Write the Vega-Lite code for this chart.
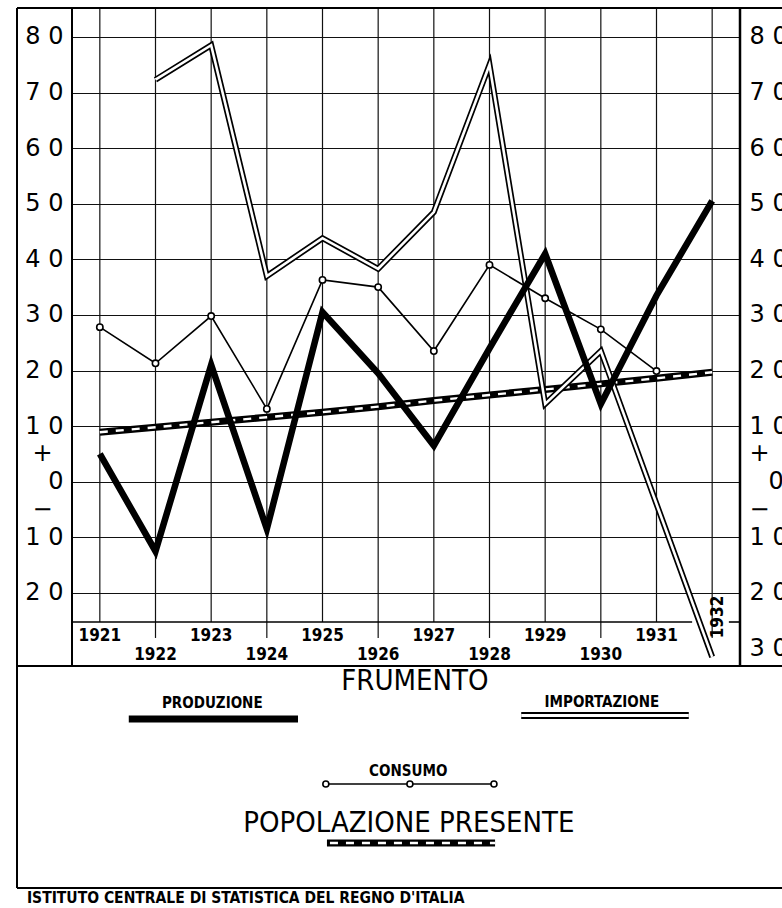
{
"$schema":"https://vega.github.io/schema/vega-lite/v6.json",
"autosize":{"type":"none"},
"padding":{"left":72,"top":8,"right":42,"bottom":20},
"width":668,"height":880,
"background":"white",
"config":{"view":{"stroke":null},"axis":{"labelOverlap":false,"labelFlush":false}},
"datasets":{
 "serie":[
  {"anno":1921,"serie":"Produzione","valore":5},
  {"anno":1922,"serie":"Produzione","valore":-12.5},
  {"anno":1923,"serie":"Produzione","valore":21},
  {"anno":1924,"serie":"Produzione","valore":-8.5},
  {"anno":1925,"serie":"Produzione","valore":30.5},
  {"anno":1926,"serie":"Produzione","valore":19.5},
  {"anno":1927,"serie":"Produzione","valore":6.5},
  {"anno":1928,"serie":"Produzione","valore":24},
  {"anno":1929,"serie":"Produzione","valore":41},
  {"anno":1930,"serie":"Produzione","valore":14},
  {"anno":1931,"serie":"Produzione","valore":33.5},
  {"anno":1932,"serie":"Produzione","valore":50.5},
  {"anno":1922,"serie":"Importazione","valore":72.3},
  {"anno":1923,"serie":"Importazione","valore":78.5},
  {"anno":1924,"serie":"Importazione","valore":37},
  {"anno":1925,"serie":"Importazione","valore":43.8},
  {"anno":1926,"serie":"Importazione","valore":38.3},
  {"anno":1927,"serie":"Importazione","valore":48.5},
  {"anno":1928,"serie":"Importazione","valore":75},
  {"anno":1929,"serie":"Importazione","valore":14},
  {"anno":1930,"serie":"Importazione","valore":23.5},
  {"anno":1932,"serie":"Importazione","valore":-31.5},
  {"anno":1921,"serie":"Consumo","valore":27.8},
  {"anno":1922,"serie":"Consumo","valore":21.3},
  {"anno":1923,"serie":"Consumo","valore":29.8},
  {"anno":1924,"serie":"Consumo","valore":13.1},
  {"anno":1925,"serie":"Consumo","valore":36.3},
  {"anno":1926,"serie":"Consumo","valore":35},
  {"anno":1927,"serie":"Consumo","valore":23.5},
  {"anno":1928,"serie":"Consumo","valore":39},
  {"anno":1929,"serie":"Consumo","valore":33},
  {"anno":1930,"serie":"Consumo","valore":27.4},
  {"anno":1931,"serie":"Consumo","valore":19.9},
  {"anno":1921,"serie":"Popolazione","valore":8.9},
  {"anno":1922,"serie":"Popolazione","valore":9.8},
  {"anno":1923,"serie":"Popolazione","valore":10.7},
  {"anno":1924,"serie":"Popolazione","valore":11.6},
  {"anno":1925,"serie":"Popolazione","valore":12.5},
  {"anno":1926,"serie":"Popolazione","valore":13.5},
  {"anno":1927,"serie":"Popolazione","valore":14.6},
  {"anno":1928,"serie":"Popolazione","valore":15.6},
  {"anno":1929,"serie":"Popolazione","valore":16.6},
  {"anno":1930,"serie":"Popolazione","valore":17.6},
  {"anno":1931,"serie":"Popolazione","valore":18.6},
  {"anno":1932,"serie":"Popolazione","valore":19.7}
 ],
 "anni":[{"anno":1921},{"anno":1922},{"anno":1923},{"anno":1924},{"anno":1925},{"anno":1926},{"anno":1927},{"anno":1928},{"anno":1929},{"anno":1930},{"anno":1931},{"anno":1932}],
 "uno":[{}]
},
"resolve":{"axis":{"y":"independent"}},
"layer":[
 {"data":{"name":"anni"},"mark":{"type":"rule","color":"#111","strokeWidth":1.2},
  "encoding":{"x":{"field":"anno","type":"quantitative","scale":{"domain":[1920.5,1932.5],"nice":false,"zero":false},"axis":null},
   "y":{"datum":85.2,"scale":{"domain":[-73.07,85.2],"nice":false,"zero":false},"axis":null},"y2":{"datum":-25.23}}},
 {"data":{"name":"anni"},"transform":[{"filter":"datum.anno % 2 == 0"}],"mark":{"type":"rule","color":"#111","strokeWidth":1.2},
  "encoding":{"x":{"field":"anno","type":"quantitative","axis":null},"y":{"datum":-25.23,"axis":null},"y2":{"datum":-28.1}}},
 {"data":{"name":"uno"},"mark":{"type":"rule","color":"black","strokeWidth":2},
  "encoding":{"x":{"datum":1920.5,"axis":null},"y":{"datum":85.2,"axis":null},"y2":{"datum":-33.15}}},
 {"data":{"name":"uno"},"mark":{"type":"rule","color":"black","strokeWidth":2.5},
  "encoding":{"x":{"datum":1932.5,"axis":null},"y":{"datum":85.2,"axis":null},"y2":{"datum":-33.15}}},
 {"data":{"name":"uno"},"mark":{"type":"rule","color":"black","strokeWidth":2},
  "encoding":{"x":{"datum":1919.512,"axis":null},"y":{"datum":85.2,"axis":null},"y2":{"datum":-73.07}}},
 {"data":{"name":"uno"},"mark":{"type":"rule","color":"black","strokeWidth":2},
  "encoding":{"y":{"datum":85.2,"axis":null},"x":{"datum":1919.512,"axis":null},"x2":{"datum":1933.3}}},
 {"data":{"name":"uno"},"mark":{"type":"rule","color":"black","strokeWidth":2},
  "encoding":{"y":{"datum":-33.15,"axis":null},"x":{"datum":1919.512,"axis":null},"x2":{"datum":1933.3}}},
 {"data":{"name":"uno"},"mark":{"type":"rule","color":"black","strokeWidth":2},
  "encoding":{"y":{"datum":-73.07,"axis":null},"x":{"datum":1919.512,"axis":null},"x2":{"datum":1933.3}}},
 {"data":{"name":"uno"},"mark":{"type":"rule","color":"black","strokeWidth":1.6},
  "encoding":{"y":{"datum":-25.23,"axis":null},"x":{"datum":1920.5,"axis":null},"x2":{"datum":1931.64}}},
 {"data":{"name":"uno"},"mark":{"type":"rule","color":"black","strokeWidth":1.6},
  "encoding":{"y":{"datum":-25.23,"axis":null},"x":{"datum":1932.3,"axis":null},"x2":{"datum":1932.5}}},
 {"data":{"name":"anni"},"transform":[{"filter":"datum.anno % 2 == 1"}],
  "mark":{"type":"text","font":"Liberation Sans Narrow, DejaVu Sans Condensed, Roboto Condensed, DejaVu Sans","fontSize":17,"fontWeight":"bold","baseline":"middle","align":"center","color":"black"},
  "encoding":{"x":{"field":"anno","type":"quantitative","axis":null},"y":{"datum":-27.75,"axis":null},"text":{"field":"anno","type":"nominal"}}},
 {"data":{"name":"anni"},"transform":[{"filter":"datum.anno % 2 == 0 && datum.anno < 1932"}],
  "mark":{"type":"text","font":"Liberation Sans Narrow, DejaVu Sans Condensed, Roboto Condensed, DejaVu Sans","fontSize":17,"fontWeight":"bold","baseline":"middle","align":"center","color":"black"},
  "encoding":{"x":{"field":"anno","type":"quantitative","axis":null},"y":{"datum":-31.17,"axis":null},"text":{"field":"anno","type":"nominal"}}},
 {"data":{"name":"anni"},"transform":[{"filter":"datum.anno == 1932"}],
  "mark":{"type":"text","font":"Liberation Sans Narrow, DejaVu Sans Condensed, Roboto Condensed, DejaVu Sans","fontSize":17,"fontWeight":"bold","baseline":"middle","align":"center","angle":270,"color":"black"},
  "encoding":{"x":{"datum":1932.1,"axis":null},"y":{"datum":-24.33,"axis":null},"text":{"field":"anno","type":"nominal"}}},
 {"data":{"name":"serie"},"transform":[{"filter":"datum.serie == 'Popolazione'"}],
  "mark":{"type":"line","color":"black","strokeWidth":7,"strokeCap":"butt"},
  "encoding":{"x":{"field":"anno","type":"quantitative","axis":null},"y":{"field":"valore","type":"quantitative","axis":null}}},
 {"data":{"name":"serie"},"transform":[{"filter":"datum.serie == 'Popolazione'"}],
  "mark":{"type":"line","color":"white","strokeWidth":2.4,"strokeDash":[8,8],"strokeCap":"butt"},
  "encoding":{"x":{"field":"anno","type":"quantitative","axis":null},"y":{"field":"valore","type":"quantitative","axis":null}}},
 {"data":{"name":"serie"},"transform":[{"filter":"datum.serie == 'Importazione'"}],
  "mark":{"type":"line","color":"black","strokeWidth":6,"strokeJoin":"miter","strokeMiterLimit":20,"strokeCap":"butt"},
  "encoding":{"x":{"field":"anno","type":"quantitative","axis":null},"y":{"field":"valore","type":"quantitative","axis":null}}},
 {"data":{"name":"serie"},"transform":[{"filter":"datum.serie == 'Importazione'"}],
  "mark":{"type":"line","color":"white","strokeWidth":2.6,"strokeJoin":"miter","strokeMiterLimit":20,"strokeCap":"butt"},
  "encoding":{"x":{"field":"anno","type":"quantitative","axis":null},"y":{"field":"valore","type":"quantitative","axis":null}}},
 {"data":{"name":"serie"},"transform":[{"filter":"datum.serie == 'Consumo'"}],
  "mark":{"type":"line","color":"black","strokeWidth":1.6},
  "encoding":{"x":{"field":"anno","type":"quantitative","axis":null},
   "y":{"field":"valore","type":"quantitative","axis":{"orient":"right","title":null,"values":[80,70,60,50,40,30,20,10,5,0,-5,-10,-20,-30],"domain":false,"ticks":false,"grid":false,
     "labelExpr":"abs(datum.value) == 5 ? (datum.value > 0 ? '+' : '−') : (datum.value == 0 ? '0' : floor(abs(datum.value)/10) + ' 0')",
     "labelFont":"DejaVu Sans","labelFontSize":24,"labelColor":"black","labelAlign":"left","labelBaseline":"middle",
     "labelPadding":{"condition":{"test":"datum.value == 0","value":28},"value":9}}}}},
 {"data":{"name":"serie"},"transform":[{"filter":"datum.serie == 'Consumo'"}],
  "mark":{"type":"point","shape":"circle","filled":true,"fill":"white","stroke":"black","strokeWidth":1.6,"size":40,"opacity":1},
  "encoding":{"x":{"field":"anno","type":"quantitative","axis":null},"y":{"field":"valore","type":"quantitative","axis":null}}},
 {"data":{"name":"serie"},"transform":[{"filter":"datum.serie == 'Produzione'"}],
  "mark":{"type":"line","color":"black","strokeWidth":6.5,"strokeJoin":"miter","strokeMiterLimit":20,"strokeCap":"butt"},
  "encoding":{"x":{"field":"anno","type":"quantitative","axis":null},
   "y":{"field":"valore","type":"quantitative","axis":{"orient":"left","title":null,"values":[80,70,60,50,40,30,20,10,5,0,-5,-10,-20],"domain":false,"ticks":false,"grid":true,"gridColor":"#111","gridWidth":1.2,
     "gridOpacity":{"condition":{"test":"abs(datum.value) == 5","value":0},"value":1},
     "labelExpr":"abs(datum.value) == 5 ? (datum.value > 0 ? '+' : '−') : (datum.value == 0 ? '0' : floor(abs(datum.value)/10) + ' 0')",
     "labelFont":"DejaVu Sans","labelFontSize":24,"labelColor":"black","labelAlign":"right","labelBaseline":"middle",
     "labelPadding":{"condition":{"test":"abs(datum.value) == 5","value":20},"value":9}}}}},
 {"data":{"name":"uno"},"mark":{"type":"text","text":"FRUMENTO","font":"Liberation Sans Narrow, DejaVu Sans Condensed, Roboto Condensed, DejaVu Sans","fontSize":29,"align":"center","baseline":"middle","color":"black"},
  "encoding":{"x":{"datum":1926.66,"axis":null},"y":{"datum":-35.84,"axis":null}}},
 {"data":{"name":"uno"},"mark":{"type":"text","text":"PRODUZIONE","font":"Liberation Sans Narrow, DejaVu Sans Condensed, Roboto Condensed, DejaVu Sans","fontSize":15,"fontWeight":"bold","align":"center","baseline":"middle","color":"black"},
  "encoding":{"x":{"datum":1923.02,"axis":null},"y":{"datum":-39.8,"axis":null}}},
 {"data":{"name":"uno"},"mark":{"type":"rule","color":"black","strokeWidth":7},
  "encoding":{"y":{"datum":-42.68,"axis":null},"x":{"datum":1921.52,"axis":null},"x2":{"datum":1924.56}}},
 {"data":{"name":"uno"},"mark":{"type":"text","text":"IMPORTAZIONE","font":"Liberation Sans Narrow, DejaVu Sans Condensed, Roboto Condensed, DejaVu Sans","fontSize":15,"fontWeight":"bold","align":"center","baseline":"middle","color":"black"},
  "encoding":{"x":{"datum":1930.02,"axis":null},"y":{"datum":-39.62,"axis":null}}},
 {"data":{"name":"uno"},"mark":{"type":"rule","color":"black","strokeWidth":7},
  "encoding":{"y":{"datum":-42.05,"axis":null},"x":{"datum":1928.57,"axis":null},"x2":{"datum":1931.58}}},
 {"data":{"name":"uno"},"mark":{"type":"rule","color":"white","strokeWidth":3},
  "encoding":{"y":{"datum":-42.05,"axis":null},"x":{"datum":1928.57,"axis":null},"x2":{"datum":1931.58}}},
 {"data":{"name":"uno"},"mark":{"type":"text","text":"CONSUMO","font":"Liberation Sans Narrow, DejaVu Sans Condensed, Roboto Condensed, DejaVu Sans","fontSize":15,"fontWeight":"bold","align":"center","baseline":"middle","color":"black"},
  "encoding":{"x":{"datum":1926.54,"axis":null},"y":{"datum":-52.03,"axis":null}}},
 {"data":{"name":"uno"},"mark":{"type":"rule","color":"black","strokeWidth":1.6},
  "encoding":{"y":{"datum":-54.37,"axis":null},"x":{"datum":1925.06,"axis":null},"x2":{"datum":1928.08}}},
 {"data":{"name":"uno"},"mark":{"type":"point","shape":"circle","filled":true,"fill":"white","stroke":"black","strokeWidth":1.6,"size":36,"opacity":1},
  "encoding":{"x":{"datum":1925.06,"axis":null},"y":{"datum":-54.37,"axis":null}}},
 {"data":{"name":"uno"},"mark":{"type":"point","shape":"circle","filled":true,"fill":"white","stroke":"black","strokeWidth":1.6,"size":36,"opacity":1},
  "encoding":{"x":{"datum":1926.57,"axis":null},"y":{"datum":-54.37,"axis":null}}},
 {"data":{"name":"uno"},"mark":{"type":"point","shape":"circle","filled":true,"fill":"white","stroke":"black","strokeWidth":1.6,"size":36,"opacity":1},
  "encoding":{"x":{"datum":1928.08,"axis":null},"y":{"datum":-54.37,"axis":null}}},
 {"data":{"name":"uno"},"mark":{"type":"text","text":"POPOLAZIONE PRESENTE","font":"Liberation Sans Narrow, DejaVu Sans Condensed, Roboto Condensed, DejaVu Sans","fontSize":29,"align":"center","baseline":"middle","color":"black"},
  "encoding":{"x":{"datum":1926.55,"axis":null},"y":{"datum":-61.38,"axis":null}}},
 {"data":{"name":"uno"},"mark":{"type":"rule","color":"black","strokeWidth":7},
  "encoding":{"y":{"datum":-64.98,"axis":null},"x":{"datum":1925.08,"axis":null},"x2":{"datum":1928.1}}},
 {"data":{"name":"uno"},"mark":{"type":"rule","color":"white","strokeWidth":2.4,"strokeDash":[8,8],"strokeDashOffset":-3},
  "encoding":{"y":{"datum":-64.98,"axis":null},"x":{"datum":1925.08,"axis":null},"x2":{"datum":1928.1}}},
 {"data":{"name":"uno"},"mark":{"type":"text","text":"ISTITUTO  CENTRALE  DI  STATISTICA  DEL  REGNO  D'ITALIA","font":"Liberation Sans Narrow, DejaVu Sans Condensed, Roboto Condensed, DejaVu Sans","fontSize":15.5,"fontWeight":"bold","align":"left","baseline":"middle","color":"black"},
  "encoding":{"x":{"datum":1919.69,"axis":null},"y":{"datum":-74.9,"axis":null}}}
]
}
